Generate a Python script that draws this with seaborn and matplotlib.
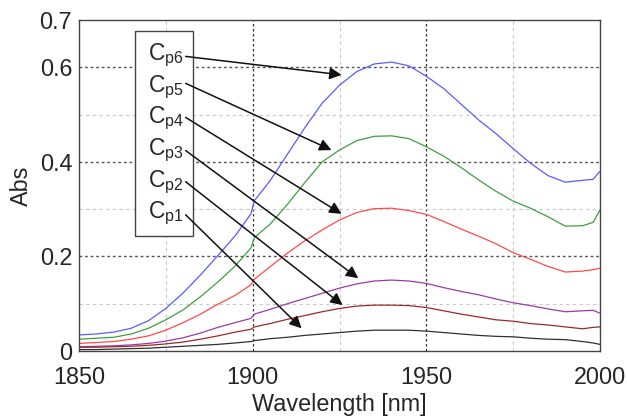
import numpy as np
import pandas as pd
import matplotlib
matplotlib.use("Agg")
import matplotlib.pyplot as plt
from matplotlib.patches import Rectangle
from matplotlib.ticker import FixedLocator
import seaborn as sns

# Absorbance spectra for six concentrations
wavelength = [1850, 1855, 1860, 1865, 1870, 1875, 1880, 1885, 1890, 1895,
              1899.5, 1900.5, 1905, 1910, 1915, 1920, 1925, 1930, 1935, 1940,
              1945, 1950, 1955, 1960, 1965, 1970, 1975, 1980, 1985, 1990,
              1995, 1998, 2000]

cp6 = [.034, .036, .040, .048, .064, .090, .123, .161, .202, .244,
       .290, .318, .360, .416, .472, .524, .562, .591, .607, .611,
       .603, .581, .555, .522, .489, .460, .428, .397, .371, .357,
       .361, .363, .380]
cp5 = [.025, .027, .029, .036, .048, .066, .087, .115, .146, .180,
       .218, .240, .268, .310, .356, .400, .425, .445, .454, .455,
       .449, .432, .412, .388, .362, .338, .317, .302, .284, .264,
       .265, .272, .298]
cp4 = [.016, .018, .020, .025, .032, .044, .060, .078, .099, .118,
       .140, .152, .178, .207, .233, .256, .277, .293, .301, .302,
       .297, .289, .274, .258, .243, .227, .208, .194, .179, .167,
       .169, .172, .175]
cp3 = [.009, .010, .011, .013, .016, .021, .028, .038, .050, .060,
       .069, .078, .088, .100, .111, .122, .133, .142, .148, .150,
       .148, .143, .134, .126, .119, .110, .102, .096, .089, .083,
       .085, .086, .080]
cp2 = [.008, .008, .009, .010, .012, .015, .019, .025, .032, .040,
       .046, .051, .058, .067, .075, .083, .090, .095, .097, .097,
       .096, .092, .085, .078, .072, .066, .063, .058, .055, .051,
       .047, .050, .051]
cp1 = [.003, .003, .004, .005, .006, .008, .010, .012, .014, .017,
       .020, .022, .026, .029, .033, .036, .039, .042, .044, .044,
       .044, .042, .039, .036, .033, .031, .030, .027, .025, .024,
       .020, .017, .014]

series_names = ["Cp6", "Cp5", "Cp4", "Cp3", "Cp2", "Cp1"]
series_values = [cp6, cp5, cp4, cp3, cp2, cp1]
series_colors = ["#5b5bff", "#3f9f3f", "#ff4a4a", "#9a3aa8", "#9a2a2a", "#303030"]

label_texts = [r"C$_{\mathregular{p6}}$", r"C$_{\mathregular{p5}}$", r"C$_{\mathregular{p4}}$",
               r"C$_{\mathregular{p3}}$", r"C$_{\mathregular{p2}}$", r"C$_{\mathregular{p1}}$"]
# arrow start (near label) and tip (on curve) in data coordinates
arrow_tips = [(1925.6, 0.584), (1922.7, 0.425), (1925.6, 0.290),
              (1930.4, 0.154), (1925.9, 0.097), (1914.1, 0.048)]
arrow_starts = [(1880.7, 0.623), (1880.7, 0.566), (1880.7, 0.494),
                (1880.7, 0.424), (1880.7, 0.358), (1880.7, 0.288)]

x_ticks = [1850, 1900, 1950, 2000]
x_minor = [1875, 1925, 1975]
y_ticks = [0, 0.2, 0.4, 0.6, 0.7]
y_ticklabels = ["0", "0.2", "0.4", "0.6", "0.7"]
y_minor = [0.1, 0.3, 0.5]

df = pd.DataFrame({
    "Wavelength": np.tile(wavelength, len(series_names)),
    "Abs": np.concatenate(series_values),
    "series": np.repeat(series_names, len(wavelength)),
})

sns.set_style("white")
plt.rcParams["font.family"] = ["Liberation Sans", "DejaVu Sans"]
plt.rcParams["mathtext.fontset"] = "custom"
plt.rcParams["mathtext.rm"] = "Liberation Sans"

fig = plt.figure(figsize=(6.27, 4.17), dpi=100)
ax = fig.add_axes([79 / 627, 66 / 417, 521 / 627, 331 / 417])

sns.lineplot(data=df, x="Wavelength", y="Abs", hue="series",
             palette=dict(zip(series_names, series_colors)),
             linewidth=0.9, legend=False, ax=ax, sort=False)

ax.set_xlim(1850, 2000)
ax.set_ylim(0, 0.7)
ax.set_xticks(x_ticks)
ax.set_yticks(y_ticks)
ax.set_yticklabels(y_ticklabels)
ax.xaxis.set_minor_locator(FixedLocator(x_minor))
ax.yaxis.set_minor_locator(FixedLocator(y_minor))

ax.tick_params(axis="both", which="major", direction="in", length=10, width=1,
               color="#444444", labelsize=16.8)
ax.tick_params(axis="both", which="minor", direction="in", length=7, width=1,
               color="#444444")
ax.tick_params(axis="x", which="major", pad=11)
ax.tick_params(axis="y", which="major", pad=5)

# major grid: darker dotted; minor grid: light dashed
for v in [1900, 1950]:
    ax.axvline(v, color="#333333", lw=0.9, ls=(0, (2, 2)), zorder=0.5)
for v in [0.2, 0.4, 0.6]:
    ax.axhline(v, color="#555555", lw=1.0, ls=(0, (2, 2)), zorder=0.5)
for v in x_minor:
    ax.axvline(v, color="#c8c8c8", lw=0.8, ls=(0, (3, 3)), zorder=0.5)
for v in y_minor:
    ax.axhline(v, color="#c8c8c8", lw=0.8, ls=(0, (3, 3)), zorder=0.5)

for s in ax.spines.values():
    s.set_color("#444444")
    s.set_linewidth(1.0)

ax.set_xlabel("Wavelength [nm]", fontsize=16.8, labelpad=3)
ax.set_ylabel("Abs", fontsize=16.8, labelpad=5)

# label box
ax.add_patch(Rectangle((0.1075, 0.347), 0.1115, 0.620, transform=ax.transAxes,
                       fill=True, facecolor="white", edgecolor="#444444",
                       lw=1.0, zorder=3))
baselines_px = [60, 91.7, 123.3, 155, 186.7, 218.3]
for txt, bpx in zip(label_texts, baselines_px):
    ax.text((148.3 - 79) / 521, (351 - bpx) / 331, txt, transform=ax.transAxes,
            fontsize=16.5, ha="left", va="baseline", zorder=4)

for start, tip in zip(arrow_starts, arrow_tips):
    ax.annotate("", xy=tip, xytext=start, zorder=5,
                arrowprops=dict(arrowstyle="-|>", color="#111111", lw=1.1,
                                mutation_scale=18, shrinkA=0, shrinkB=0))

fig.savefig("out.png", dpi=100)
